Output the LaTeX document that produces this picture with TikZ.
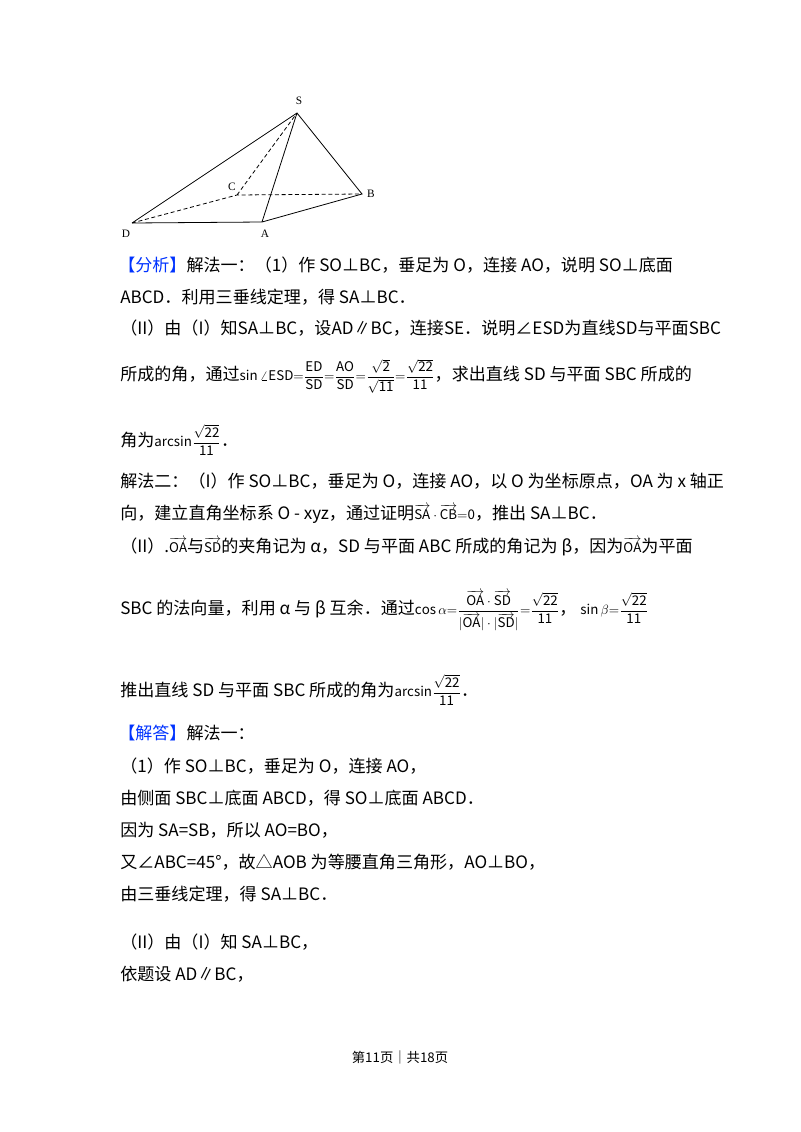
\documentclass[tikz,border=0pt]{standalone}
\usepackage{amsmath}
\usepackage{fontspec}
\setmainfont{Noto Sans CJK SC}
\newcommand{\mff}[1]{{\fontsize{10}{12}\selectfont$\displaystyle\mathrm{#1}$}}
\newcommand{\vvv}[1]{\overrightarrow{\mathrm{#1}}}
\begin{document}
\begin{tikzpicture}[x=0.75pt,y=-0.75pt,
 t/.style={anchor=west,inner sep=0pt,font=\fontsize{12.8}{14}\selectfont},
 lab/.style={font=\fontsize{8.5}{10}\selectfont\fontspec{Liberation Serif}},
 ed/.style={line width=0.6pt},
 hid/.style={line width=0.6pt,dashed,dash pattern=on 3pt off 2pt}]
\useasboundingbox (0,0) rectangle (800,1132);
\fill[white] (0,0) rectangle (800,1132);
\coordinate (S) at (297,113); \coordinate (C) at (237,195);
\coordinate (B) at (362,194); \coordinate (D) at (132,223); \coordinate (A) at (262,222);
\draw[ed] (D)--(S)--(B)--(A)--(D) (A)--(S);
\draw[hid] (D)--(C)--(B) (C)--(S);
\node[lab] (ls) at (299,101) {S};
\node[lab] (lc) at (232,187) {C};
\node[lab] (lb) at (371,194) {B};
\node[lab] (ld) at (126,234) {D};
\node[lab] (la) at (265,234) {A};
\node[t] (l1) at (118,265) {\textcolor{blue!80!cyan}{【分析】}解法一：（1）作 SO⊥BC，垂足为 O，连接 AO，说明 SO⊥底面};
\node[t] (l2) at (120,297) {ABCD．利用三垂线定理，得 SA⊥BC．};
\node[t] (l3) at (120,328) {（II）由（I）知SA⊥BC，设AD∥BC，连接SE．说明∠ESD为直线SD与平面SBC};
\node[t] (l4) at (120,376) {所成的角，通过\mff{\sin\angle ESD{=}\frac{ED}{SD}{=}\frac{AO}{SD}{=}\frac{\sqrt2}{\sqrt{11}}{=}\frac{\sqrt{22}}{11}}，求出直线 SD 与平面 SBC 所成的};
\node[t] (l5) at (120,440) {角为\mff{arcsin\frac{\sqrt{22}}{11}}．};
\node[t] (l6) at (120,481) {解法二：（I）作 SO⊥BC，垂足为 O，连接 AO，以 O 为坐标原点，OA 为 x 轴正};
\node[t] (l7) at (120,514) {向，建立直角坐标系 O - xyz，通过证明\mff{\vvv{SA}\cdot\vvv{CB}{=}0}，推出 SA⊥BC．};
\node[t] (l8) at (120,547) {（II）.\mff{\vvv{OA}}与\mff{\vvv{SD}}的夹角记为 α，SD 与平面 ABC 所成的角记为 β，因为\mff{\vvv{OA}}为平面};
\node[t] (l9) at (120,611) {SBC 的法向量，利用 α 与 β 互余．通过\mff{cos\,\alpha{=}\frac{\vvv{OA}\cdot\vvv{SD}}{|\vvv{OA}|\cdot|\vvv{SD}|}{=}\frac{\sqrt{22}}{11}}，\ \mff{sin\,\beta{=}\frac{\sqrt{22}}{11}}};
\node[t] (l10) at (120,690) {推出直线 SD 与平面 SBC 所成的角为\mff{arcsin\frac{\sqrt{22}}{11}}．};
\node[t] (l11) at (118,733) {\textcolor{blue!80!cyan}{【解答】}解法一：};
\node[t] (l12) at (120,766) {（1）作 SO⊥BC，垂足为 O，连接 AO，};
\node[t] (l13) at (120,798) {由侧面 SBC⊥底面 ABCD，得 SO⊥底面 ABCD．};
\node[t] (l14) at (120,830) {因为 SA=SB，所以 AO=BO，};
\node[t] (l15) at (120,862) {又∠ABC=45°，故△AOB 为等腰直角三角形，AO⊥BO，};
\node[t] (l16) at (120,894) {由三垂线定理，得 SA⊥BC．};
\node[t] (l17) at (120,942) {（II）由（I）知 SA⊥BC，};
\node[t] (l18) at (120,974) {依题设 AD∥BC，};
\node[anchor=center,inner sep=0pt,font=\fontsize{10}{12}\selectfont] (ft) at (400,1057) {第11页｜共18页};
\end{tikzpicture}
\end{document}
